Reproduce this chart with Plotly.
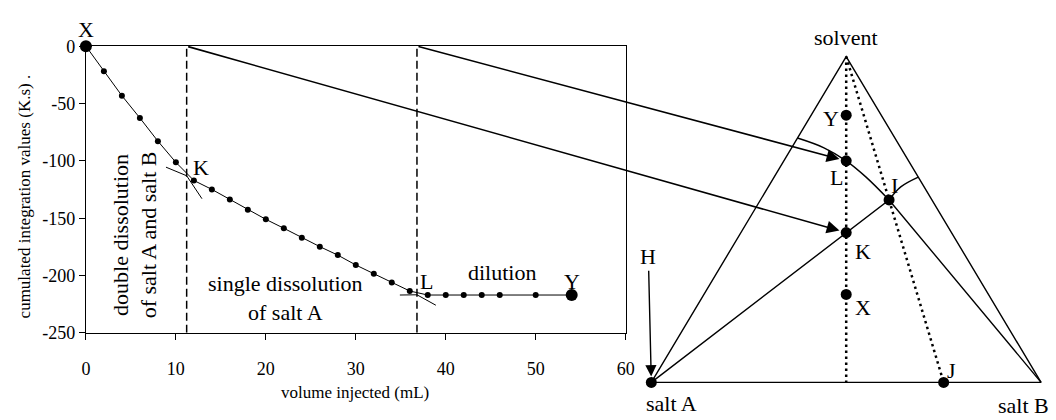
import math
import plotly.graph_objects as go

# ---------------- titration curve data ----------------
volume_ml = [0, 2, 4, 6, 8, 10, 12, 14, 16, 18, 20, 22, 24, 26, 28, 30, 32, 34, 36,
             38, 40, 42, 44, 46, 50, 54]
cumulated = [0, -21.9, -43.2, -62.6, -82.8, -101.3, -117.1, -124.9, -133.8, -142.7,
             -151.0, -158.8, -167.1, -174.8, -182.2, -190.8, -198.4, -206.0, -213.5,
             -217, -217, -217, -217, -217, -217, -217]

# break points (K and L on the curve)
break_names = ["K", "L"]
break_volume = [11.2, 36.8]
break_value = [-113, -216.8]

# tangent extensions at the break points
tangent_x = [8.9, 11.2, None, 11.2, 12.9, None, 34.9, 36.8, None, 36.8, 38.9]
tangent_y = [-105.5, -113, None, -113, -133, None, -217, -216.8, None, -216.8, -225.9]

x_tickvals = [0, 10, 20, 30, 40, 50, 60]
x_ticktext = ["0", "10", "20", "30", "40", "50", "60"]
y_tickvals = [0, -50, -100, -150, -200, -250]
y_ticktext = ["0", "-50", "-100", "-150", "-200", "-250"]

# ---------------- ternary diagram data (solvent / salt A / salt B fractions) ----------------
pt_names = ["Y", "L", "K", "X", "I", "J"]
pt_solvent = [0.82, 0.68, 0.46, 0.27, 0.56, 0.0]
pt_saltB = [0.09, 0.16, 0.27, 0.365, 0.33, 0.75]

vertex_names = ["salt A", "salt B", "solvent"]
vertex_solvent = [0.0, 0.0, 1.0]
vertex_saltB = [0.0, 1.0, 0.0]

# solubility curve of salt A (from A-solvent side to I, through L)
curveA_solvent = [0.75, 0.72, 0.68, 0.63, 0.56]
curveA_saltB = [0.0, 0.083, 0.16, 0.236, 0.33]
# solubility curve of salt B (from I to B-solvent side)
curveB_solvent = [0.56, 0.60, 0.63]
curveB_saltB = [0.33, 0.34, 0.37]

# ---------------- layout constants (pixels) ----------------
W, H = 1056, 420
PLOT_L, PLOT_R, PLOT_T, PLOT_B = 82, 629, 38, 339
X1_RANGE = [0, 60]
Y1_RANGE = [-250, 0]
TRI_L, TRI_R, TRI_BASE = 655, 1050, 391
SIDE = TRI_R - TRI_L
SQ3 = math.sqrt(3) / 2

FONT = "Liberation Serif, Times New Roman, serif"


def tern(s, b):
    return b + s / 2.0, s * SQ3


def tern_list(ss, bs):
    xs, ys = [], []
    for s, b in zip(ss, bs):
        x, y = tern(s, b)
        xs.append(x)
        ys.append(y)
    return xs, ys


def ax1_to_px(x, y):
    px = PLOT_L + (x - X1_RANGE[0]) / (X1_RANGE[1] - X1_RANGE[0]) * (PLOT_R - PLOT_L)
    py = PLOT_B - (y - Y1_RANGE[0]) / (Y1_RANGE[1] - Y1_RANGE[0]) * (PLOT_B - PLOT_T)
    return px, py


def px_to_ax2(px, py):
    return (px - TRI_L) / SIDE, (TRI_BASE - py) / SIDE


fig = go.Figure()

# ---- left plot ----
for bv in break_volume:
    fig.add_trace(go.Scatter(x=[bv, bv], y=Y1_RANGE, mode="lines",
                             line=dict(color="black", width=1.5, dash="8px,4px"),
                             hoverinfo="skip", xaxis="x", yaxis="y"))
fig.add_trace(go.Scatter(x=tangent_x, y=tangent_y, mode="lines",
                         line=dict(color="black", width=1), xaxis="x", yaxis="y"))
fig.add_trace(go.Scatter(x=volume_ml, y=cumulated, mode="lines+markers",
                         line=dict(color="black", width=1),
                         marker=dict(size=6, color="black"), cliponaxis=False,
                         xaxis="x", yaxis="y"))
fig.add_trace(go.Scatter(x=[volume_ml[0], volume_ml[-1]], y=[cumulated[0], cumulated[-1]],
                         mode="markers", marker=dict(size=12, color="black"),
                         cliponaxis=False, xaxis="x", yaxis="y"))

# ---- ternary diagram ----
vx, vy = tern_list(vertex_solvent, vertex_saltB)
fig.add_trace(go.Scatter(x=vx + [vx[0]], y=vy + [vy[0]], mode="lines",
                         line=dict(color="black", width=1.4), xaxis="x2", yaxis="y2"))
px_, py_ = tern_list(pt_solvent, pt_saltB)
iI = pt_names.index("I")
iJ = pt_names.index("J")
# tie lines A-I and B-I
fig.add_trace(go.Scatter(x=[vx[0], px_[iI], vx[1]], y=[vy[0], py_[iI], vy[1]], mode="lines",
                         line=dict(color="black", width=1.4), xaxis="x2", yaxis="y2"))
# solubility curves
cax, cay = tern_list(curveA_solvent, curveA_saltB)
fig.add_trace(go.Scatter(x=cax, y=cay, mode="lines", line=dict(color="black", width=1.4, shape="spline"),
                         xaxis="x2", yaxis="y2"))
cbx, cby = tern_list(curveB_solvent, curveB_saltB)
fig.add_trace(go.Scatter(x=cbx, y=cby, mode="lines", line=dict(color="black", width=1.4, shape="spline"),
                         xaxis="x2", yaxis="y2"))
# dotted lines: solvent -> middle of base, solvent -> J
mx, my = tern(0.0, 0.5)
fig.add_trace(go.Scatter(x=[vx[2], mx], y=[vy[2], my], mode="lines",
                         line=dict(color="black", width=2.5, dash="2.5px,3.5px"), xaxis="x2", yaxis="y2"))
fig.add_trace(go.Scatter(x=[vx[2], px_[iJ]], y=[vy[2], py_[iJ]], mode="lines",
                         line=dict(color="black", width=2.5, dash="2.5px,3.5px"), xaxis="x2", yaxis="y2"))
# points
fig.add_trace(go.Scatter(x=px_ + [vx[0]], y=py_ + [vy[0]], mode="markers",
                         marker=dict(size=11, color="black"), cliponaxis=False,
                         xaxis="x2", yaxis="y2"))

annotations = []
txt = dict(color="black", size=22, family=FONT)
C = dict(xanchor="center", yanchor="middle")

# left plot labels
annotations.append(dict(x=volume_ml[0], y=cumulated[0], xref="x", yref="y", text="X",
                        showarrow=False, yshift=17, font=txt, **C))
annotations.append(dict(x=volume_ml[-1], y=cumulated[-1], xref="x", yref="y", text="Y",
                        showarrow=False, yshift=14, font=txt, **C))
annotations.append(dict(x=break_volume[0], y=break_value[0], xref="x", yref="y", text="K",
                        showarrow=False, xshift=14, yshift=8, font=txt, **C))
annotations.append(dict(x=break_volume[1], y=break_value[1], xref="x", yref="y", text="L",
                        showarrow=False, xshift=10, yshift=13, font=txt, **C))
annotations.append(dict(x=46.2, y=-197, xref="x", yref="y", text="dilution",
                        showarrow=False, font=txt, **C))
annotations.append(dict(x=22.2, y=-220, xref="x", yref="y", text="single dissolution<br>of salt A",
                        showarrow=False, font=txt, **C))
annotations.append(dict(x=5.4, y=-164.5, xref="x", yref="y",
                        text="double dissolution<br>of salt A and salt B",
                        textangle=-90, showarrow=False, font=txt, **C))
# axis titles
annotations.append(dict(x=20 / W, y=1 - 196 / H, xref="paper", yref="paper",
                        text="cumulated integration values (K.s) .", textangle=-90,
                        showarrow=False, font=dict(color="black", size=17, family=FONT), **C))
annotations.append(dict(x=355 / W, y=1 - 402 / H, xref="paper", yref="paper",
                        text="volume injected (mL)", showarrow=False,
                        font=dict(color="black", size=17, family=FONT), **C))

# arrows from break points to ternary points
for name, bv in zip(break_names, break_volume):
    tx, ty = px_to_ax2(*ax1_to_px(bv, Y1_RANGE[1]))
    k = pt_names.index(name)
    annotations.append(dict(x=px_[k], y=py_[k], xref="x2", yref="y2",
                            ax=tx, ay=ty, axref="x2", ayref="y2", text="",
                            showarrow=True, arrowhead=2, arrowsize=1.6, arrowwidth=1.6,
                            arrowcolor="black", standoff=7))

# ternary labels
label_shift = {"Y": (-15, -3), "L": (-10, -17), "K": (17, -19), "X": (17, -13),
               "I": (5, 14), "J": (8, 12)}
for n, x, y in zip(pt_names, px_, py_):
    dx, dy = label_shift[n]
    annotations.append(dict(x=x, y=y, xref="x2", yref="y2", text=n, showarrow=False,
                            xshift=dx, yshift=dy, font=txt, **C))
vertex_shift = {"salt A": (20, -21), "salt B": (-18, -23), "solvent": (0, 19)}
for n, x, y in zip(vertex_names, vx, vy):
    dx, dy = vertex_shift[n]
    annotations.append(dict(x=x, y=y, xref="x2", yref="y2", text=n, showarrow=False,
                            xshift=dx, yshift=dy, font=txt, **C))
# H arrow to salt A
hx, hy = px_to_ax2(652, 259)
annotations.append(dict(x=vx[0], y=vy[0], xref="x2", yref="y2", ax=hx, ay=hy,
                        axref="x2", ayref="y2", text="H", font=txt, showarrow=True,
                        arrowhead=2, arrowsize=1.6, arrowwidth=1.4, arrowcolor="black",
                        standoff=6))

fig.update_layout(
    width=W, height=H, autosize=False,
    margin=dict(l=0, r=0, t=0, b=0),
    paper_bgcolor="white", plot_bgcolor="rgba(0,0,0,0)",
    showlegend=False,
    font=dict(family=FONT, color="black"),
    xaxis=dict(domain=[PLOT_L / W, PLOT_R / W], range=X1_RANGE, tickvals=x_tickvals,
               ticktext=x_ticktext, ticks="outside", ticklen=6, tickcolor="black",
               showline=True, linecolor="black", linewidth=1, mirror=True,
               showgrid=False, zeroline=False, tickfont=dict(size=18, family=FONT),
               ticklabelstandoff=14, anchor="y"),
    yaxis=dict(domain=[(H - PLOT_B) / H, (H - PLOT_T) / H], range=Y1_RANGE,
               tickvals=y_tickvals, ticktext=y_ticktext, ticks="outside", ticklen=6,
               tickcolor="black", showline=True, linecolor="black", linewidth=1,
               mirror=True, showgrid=False, zeroline=False,
               tickfont=dict(size=18, family=FONT), anchor="x"),
    xaxis2=dict(domain=[0, 1], range=[(0 - TRI_L) / SIDE, (W - TRI_L) / SIDE],
                visible=False, anchor="y2"),
    yaxis2=dict(domain=[0, 1], range=[(TRI_BASE - H) / SIDE, TRI_BASE / SIDE],
                visible=False, anchor="x2"),
    annotations=annotations,
)

fig.write_html("out.html")
